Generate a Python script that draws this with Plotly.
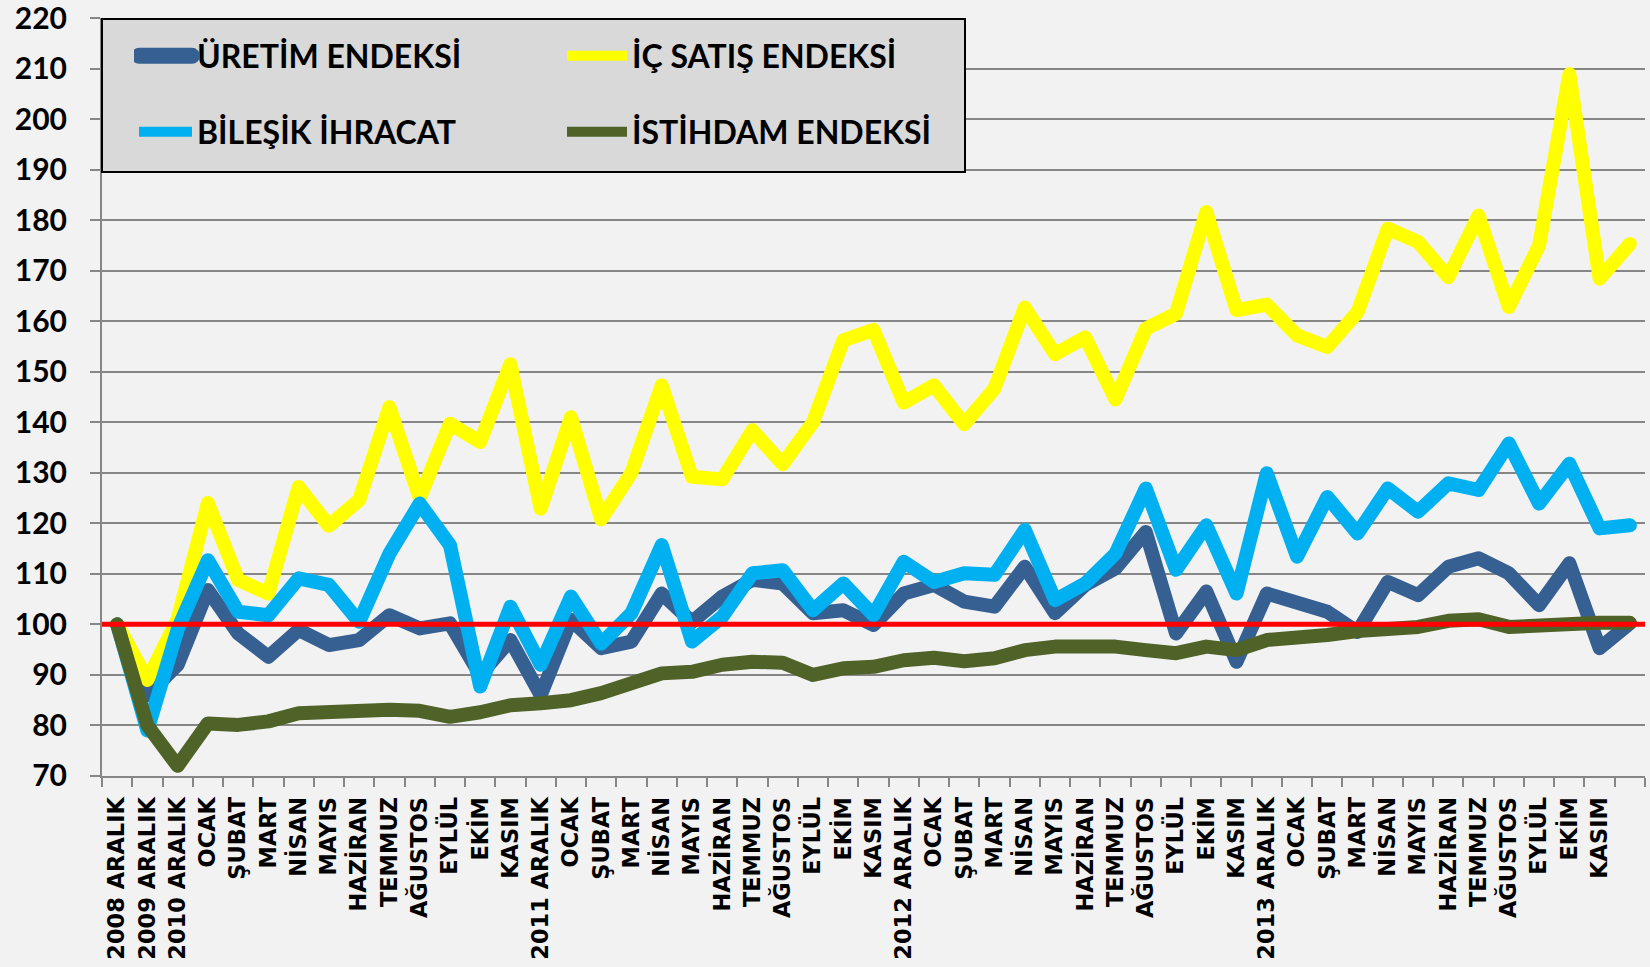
import plotly.graph_objects as go

labels = ["2008 ARALIK", "2009 ARALIK", "2010 ARALIK",
          "OCAK", "ŞUBAT", "MART", "NİSAN", "MAYIS", "HAZİRAN", "TEMMUZ", "AĞUSTOS", "EYLÜL", "EKİM", "KASIM",
          "2011 ARALIK",
          "OCAK", "ŞUBAT", "MART", "NİSAN", "MAYIS", "HAZİRAN", "TEMMUZ", "AĞUSTOS", "EYLÜL", "EKİM", "KASIM",
          "2012 ARALIK",
          "OCAK", "ŞUBAT", "MART", "NİSAN", "MAYIS", "HAZİRAN", "TEMMUZ", "AĞUSTOS", "EYLÜL", "EKİM", "KASIM",
          "2013 ARALIK",
          "OCAK", "ŞUBAT", "MART", "NİSAN", "MAYIS", "HAZİRAN", "TEMMUZ", "AĞUSTOS", "EYLÜL", "EKİM", "KASIM",
          ""]

uretim = [100, 86, 92, 106.8, 98.2, 93.6, 98.9, 95.9, 96.9, 101.8, 99.2, 100.2, 90, 96.9, 86,
          100.9, 95.3, 96.6, 106.1, 100.5, 105.5, 108.8, 108.1, 102.2, 102.8, 99.9, 106.1,
          107.8, 104.5, 103.5, 111.4, 102.2, 107.8, 111.1, 118.3, 98.2, 106.5, 92.6, 106.1,
          104.5, 102.5, 98.5, 108.4, 105.8, 111.4, 113.1, 110.1, 103.8, 112.1, 95.3, 100.2]

ic_satis = [100, 89, 101, 124, 108.8, 106.1, 127.2, 119.5, 124.6, 143, 125, 139.7, 136.1, 151.5, 122.9,
            141, 120.8, 130, 147.3, 129.2, 128.7, 138.4, 131.7, 140, 156.2, 158.3, 143.9,
            147.3, 139.6, 146.7, 162.7, 153.5, 156.8, 144.5, 158.5, 161.5, 181.6, 162.2, 163.3,
            157.2, 154.9, 161.8, 178.3, 175.7, 168.7, 180.9, 162.8, 175, 208.9, 168.4, 175.3]

bilesik = [100, 79, 99, 112.7, 102.5, 101.8, 109.1, 107.8, 100.5, 114, 123.9, 115.7, 87.7, 103.5, 92,
           105.5, 96.2, 102.2, 115.7, 96.6, 101.5, 110.1, 110.7, 102.8, 108.1, 101.8, 112.4,
           108.4, 110.1, 109.8, 118.7, 104.8, 108.1, 114, 126.9, 110.8, 119.6, 106.1, 129.9,
           113.4, 125.2, 118, 126.9, 122.3, 127.9, 126.6, 135.8, 123.9, 131.8, 119, 119.6]

istihdam = [100, 80, 72, 80.4, 80.1, 80.8, 82.4, 82.7, 83.1, 83.1, 82.9, 81.7, 82.6, 84, 84.4,
            85, 86.4, 88.3, 90.3, 90.6, 92, 92.6, 92.4, 90, 91.3, 91.6, 92.9,
            93.4, 92.7, 93.3, 94.9, 95.6, 95.9, 95.6, 94.9, 94.3, 95.6, 94.9, 96.9,
            97.2, 97.9, 98.7, 99.2, 99.5, 100.7, 101, 99.5, 99.9, 99.9, 100.3, 100.3]

series_names = ["ÜRETİM ENDEKSİ", "İÇ SATIŞ ENDEKSİ", "BİLEŞİK İHRACAT", "İSTİHDAM ENDEKSİ"]
series_colors = ["#376092", "#ffff00", "#00b0f0", "#4f6228"]
reference_level = 100

x = list(range(len(labels)))

W, H = 1650, 967
L, R, T, B = 102, 5, 18, 191
pw, ph = W - L - R, H - T - B
def px2x(p):
    return (p - L) / pw
def py2y(p):
    return (H - B - p) / ph

fig = go.Figure()
legend_ids = ["legend", "legend2", "legend3", "legend4"]
for name, vals, col, lg in zip(series_names, [uretim, ic_satis, bilesik, istihdam], series_colors, legend_ids):
    fig.add_trace(go.Scatter(x=x, y=vals, mode="lines", name=name,
                             line=dict(color=col, width=14), legend=lg))

grid = "#868686"
fig.add_shape(type="rect", xref="paper", yref="paper",
              x0=px2x(102), x1=px2x(965), y0=py2y(172), y1=py2y(19),
              fillcolor="#d9d9d9", line=dict(color="black", width=2), layer="above")
fig.add_shape(type="line", xref="paper", yref="y", x0=0, x1=1,
              y0=reference_level, y1=reference_level,
              line=dict(color="#ff0000", width=5), layer="above")

lfont = dict(family="Lato", size=32, color="black", weight="bold")
common = dict(bgcolor="rgba(0,0,0,0)", borderwidth=0, font=lfont,
              xanchor="left", yanchor="middle", orientation="v")
row1, row2 = py2y(56), py2y(132)
c1, c2 = px2x(134), px2x(562)
fig.update_layout(
    width=W, height=H,
    margin=dict(l=L, r=R, t=T, b=B, autoexpand=False),
    paper_bgcolor="#f2f2f2", plot_bgcolor="#f2f2f2",
    showlegend=True,
    legend=dict(x=c1, y=row1, itemwidth=53, **common),
    legend2=dict(x=c2, y=row1, itemwidth=60, **common),
    legend3=dict(x=c1, y=row2, itemwidth=53, **common),
    legend4=dict(x=c2, y=row2, itemwidth=60, **common),
    xaxis=dict(range=[-0.5, len(labels) - 0.5], tickmode="array", tickvals=x, ticktext=labels,
               tickangle=-90, ticks="", showgrid=False, zeroline=False, automargin=False,
               showline=True, linecolor=grid, linewidth=2,
               tickfont=dict(family="DejaVu Sans", size=22.5, color="black", weight="bold"),
               ticklabelstandoff=10, ticklabeloverflow="allow",
               minor=dict(tick0=-0.5, dtick=1, ticks="outside", ticklen=9,
                          tickcolor=grid, tickwidth=2, showgrid=False)),
    yaxis=dict(range=[69.99, 220.01], tickmode="array", tickvals=list(range(70, 221, 10)),
               ticks="outside", ticklen=10, automargin=False, ticklabeloverflow="allow",
               tickcolor=grid, tickwidth=2, gridcolor=grid, gridwidth=2,
               showline=True, linecolor=grid, linewidth=2, zeroline=False,
               tickfont=dict(family="Lato", size=30, color="black", weight="bold"),
               ticklabelstandoff=17),
)

post = """
document.body.style.margin = '0';
document.body.style.background = '#f2f2f2';
var gd = document.getElementById('{plot_id}');
function fixJoins(){
  gd.querySelectorAll('.scatterlayer path.js-line').forEach(function(p){
    p.style.strokeLinejoin = 'round'; p.style.strokeLinecap = 'round';
  });
  gd.querySelectorAll('.legend path.js-line').forEach(function(p){
    p.style.strokeLinecap = 'round'; p.style.strokeWidth = '16px';
  });
}
fixJoins();
gd.on('plotly_afterplot', fixJoins);
"""
fig.write_html("out.html", post_script=post, config={"displayModeBar": False})
